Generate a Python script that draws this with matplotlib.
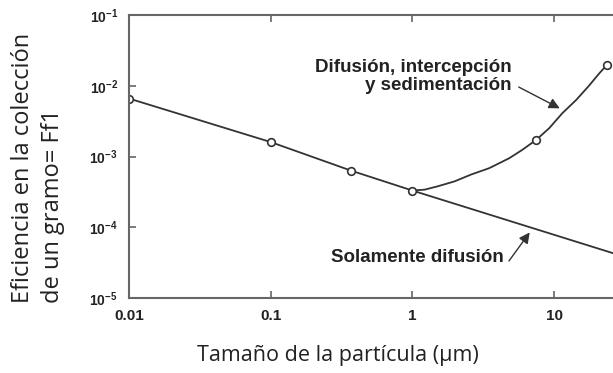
import matplotlib.pyplot as plt
import matplotlib.ticker as mticker

plt.rcParams['mathtext.fontset'] = 'custom'
plt.rcParams['mathtext.bf'] = 'Liberation Sans:bold'
plt.rcParams['mathtext.rm'] = 'Liberation Sans:bold'

# solo difusion (recta en log-log)
x_dif = [0.01, 0.1, 0.37, 1.0, 26.0]
y_dif = [6.6e-3, 1.6e-3, 6.3e-4, 3.3e-4, 4.3e-5]
x_dif_pts = [0.01, 0.1, 0.37, 1.0]
y_dif_pts = [6.6e-3, 1.6e-3, 6.3e-4, 3.3e-4]

# difusion + intercepcion + sedimentacion
x_tot = [1.03, 1.22, 1.50, 1.98, 2.60, 3.48, 4.82, 5.95, 7.47,
         9.22, 11.4, 14.3, 17.6, 20.7, 23.6]
y_tot = [3.32e-4, 3.40e-4, 3.78e-4, 4.45e-4, 5.57e-4, 6.84e-4, 9.46e-4,
         1.24e-3, 1.72e-3, 2.51e-3, 4.08e-3, 6.30e-3, 1.0e-2, 1.48e-2, 1.98e-2]
x_tot_pts = [7.47, 23.6]
y_tot_pts = [1.72e-3, 1.98e-2]

xticks = [0.01, 0.1, 1, 10]
xticklabels = ['0.01', '0.1', '1', '10']
yticks = [1e-5, 1e-4, 1e-3, 1e-2, 1e-1]

line_c = '#333333'
spine_c = '#666666'
txt_c = '#222222'

fig = plt.figure(figsize=(6.13, 3.73), dpi=100)
ax = fig.add_axes([129/613, 1 - 298/373, 1 - 129/613, (298 - 15)/373])

ax.plot(x_dif, y_dif, color=line_c, lw=1.3)
ax.plot(x_tot, y_tot, color=line_c, lw=1.3)
ax.plot(x_dif_pts, y_dif_pts, 'o', ms=5.5, mfc='white', mec=line_c, mew=1.2)
ax.plot(x_tot_pts, y_tot_pts, 'o', ms=5.5, mfc='white', mec=line_c, mew=1.2)

ax.set_xscale('log')
ax.set_yscale('log')
ax.set_xlim(0.01, 26)
ax.set_ylim(1e-5, 1e-1)

ax.xaxis.set_major_locator(mticker.FixedLocator(xticks))
ax.xaxis.set_minor_locator(mticker.NullLocator())
ax.set_xticklabels(xticklabels, fontfamily='Liberation Sans', fontweight='bold',
                   fontsize=11, color=txt_c)
ax.yaxis.set_major_locator(mticker.FixedLocator(yticks))
ax.yaxis.set_minor_locator(mticker.NullLocator())
ax.set_yticklabels([r'$\mathbf{10^{%d}}$' % e for e in range(-5, 0)],
                   fontsize=10, color=txt_c)

ax.tick_params(axis='x', direction='in', top=True, length=5, width=1.2,
               color=spine_c, pad=8)
ax.tick_params(axis='y', direction='in', length=5, width=1.2,
               color=spine_c, pad=8)
for s in ['left', 'top', 'bottom']:
    ax.spines[s].set_color(spine_c)
    ax.spines[s].set_linewidth(1.5)
ax.spines['right'].set_visible(False)

# etiquetas de las curvas
ax.text(5.0, 1.35e-2, 'Difusión, intercepción\ny sedimentación',
        ha='right', va='center', fontfamily='Liberation Sans',
        fontweight='bold', fontsize=13.5, color=txt_c, linespacing=1.05)
ax.annotate('', xy=(11.4, 4.6e-3), xytext=(5.4, 1.0e-2),
            arrowprops=dict(arrowstyle='-|>', mutation_scale=16,
                            color=line_c, lw=1.0))
ax.text(4.4, 3.7e-5, 'Solamente difusión', ha='right', va='center',
        fontfamily='Liberation Sans', fontweight='bold', fontsize=13.5,
        color=txt_c)
ax.annotate('', xy=(6.9, 9.1e-5), xytext=(4.67, 3.1e-5),
            arrowprops=dict(arrowstyle='-|>', mutation_scale=16,
                            color=line_c, lw=1.0))

fig.text(338/613, 1 - 356/373, 'Tamaño de la partícula (µm)',
         ha='center', va='center', fontfamily='Open Sans', fontsize=15.5,
         color=txt_c)
fig.text(38/613, 1 - 303/373, 'Eficiencia en la colección\nde un gramo= Ff1',
         rotation=90, ha='center', va='bottom', multialignment='left',
         fontfamily='Open Sans', fontsize=17, color=txt_c, linespacing=1.35)

fig.savefig('out.png', dpi=100)
